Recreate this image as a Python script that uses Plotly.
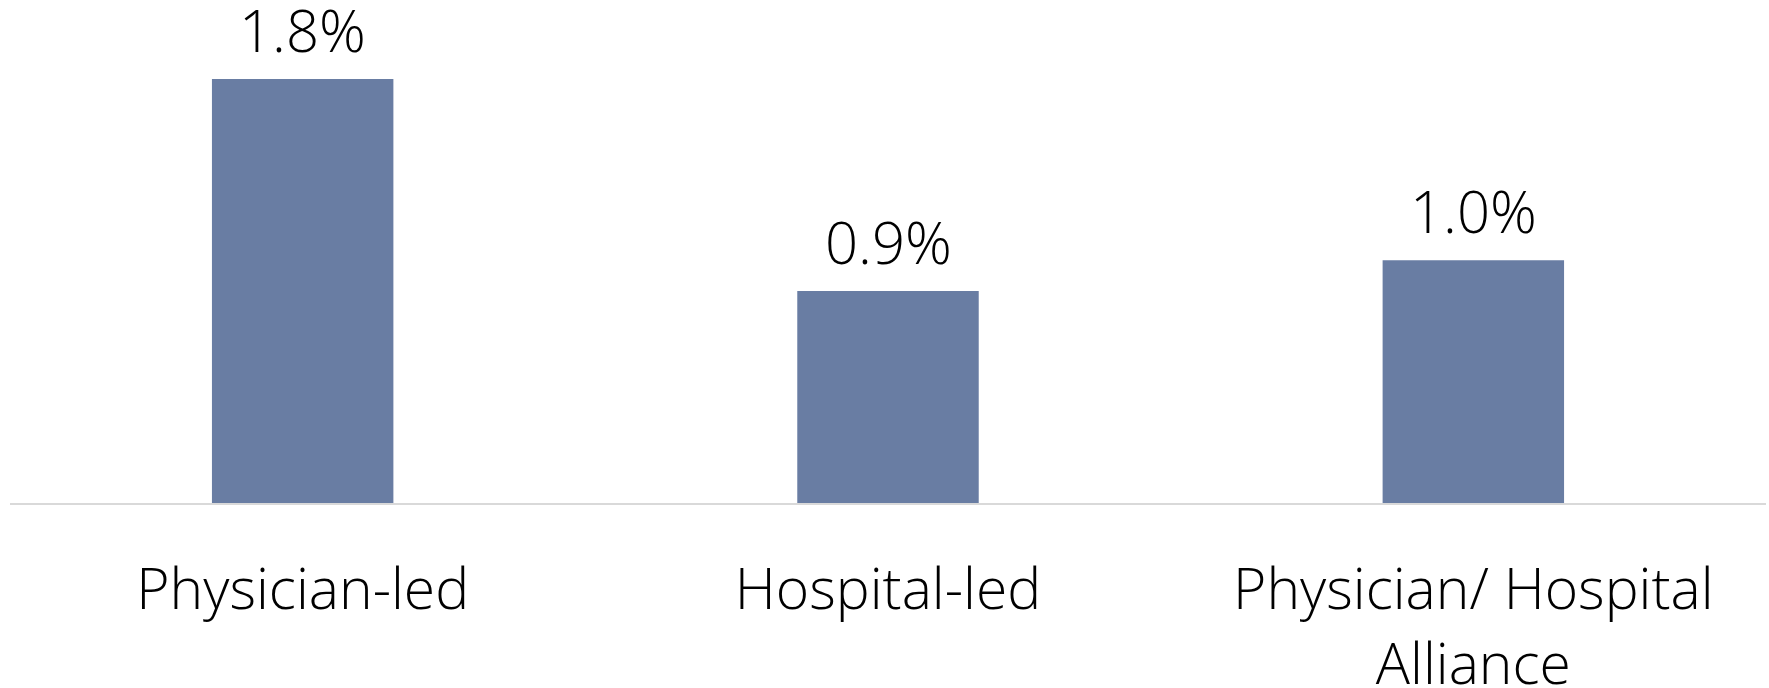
import plotly.graph_objects as go

categories = ["Physician-led", "Hospital-led", "Physician/ Hospital<br>Alliance"]
values = [1.80, 0.90, 1.03]
labels = ["1.8%", "0.9%", "1.0%"]

FONT = "Open Sans"

fig = go.Figure(
    go.Bar(
        x=categories,
        y=values,
        marker=dict(color="#697DA3", line=dict(width=0)),
        cliponaxis=False,
        width=0.31,
    )
)

for c, v, t in zip(categories, values, labels):
    fig.add_annotation(
        x=c, y=v, text=t, showarrow=False,
        yanchor="bottom", yshift=8,
        font=dict(family=FONT, size=58, color="#000000", weight=300),
    )

fig.update_layout(
    width=1769,
    height=688,
    margin=dict(l=10, r=3, t=0, b=185, autoexpand=False),
    paper_bgcolor="white",
    plot_bgcolor="white",
    showlegend=False,
    bargap=0.69,
    xaxis=dict(
        automargin=False,
        showline=True,
        linecolor="#D9D9D9",
        linewidth=2,
        ticks="",
        ticklabelstandoff=36,
        tickfont=dict(family=FONT, size=57, color="#000000", weight=300),
        showgrid=False,
    ),
    yaxis=dict(
        range=[0, 2.135],
        visible=False,
        showgrid=False,
        zeroline=False,
    ),
)

fig.write_html("out.html")
